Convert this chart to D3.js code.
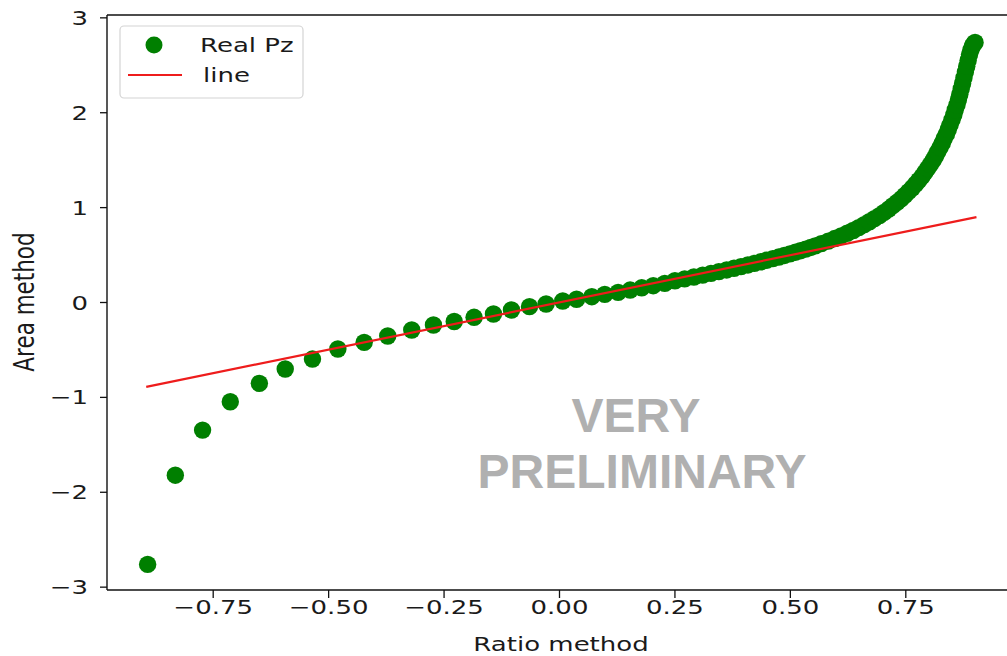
<!DOCTYPE html>
<html>
<head>
<meta charset="utf-8">
<script src="https://cdn.jsdelivr.net/npm/d3@7/dist/d3.min.js"></script>
<style>
  body { margin: 0; background: #fff; }
  svg { display: block; }
  .tick-label, .axis-label, .legend-label { font-family: "DejaVu Sans", sans-serif; fill: #1a1a1a; }
  .stamp { font-family: "Liberation Sans", Arial, sans-serif; font-weight: bold; fill: #b0b0b0; }
</style>
</head>
<body>
<svg id="chart"></svg>
<script>
// scatter "Real Pz"
var pzX = [-0.892, -0.832, -0.773, -0.713, -0.650, -0.594, -0.535, -0.480, -0.423, -0.372,
           -0.320, -0.273, -0.228, -0.185, -0.143, -0.104, -0.065, -0.029, 0.007, 0.037,
           0.070, 0.098, 0.127, 0.153, 0.178, 0.203, 0.228, 0.250, 0.271, 0.291,
           0.310, 0.328, 0.345, 0.362, 0.378, 0.393, 0.408, 0.422, 0.436, 0.449,
           0.462, 0.475, 0.487, 0.499, 0.511, 0.522, 0.533, 0.544, 0.554, 0.567,
           0.582, 0.596, 0.610, 0.623, 0.636,
           0.648, 0.660, 0.671, 0.682, 0.693, 0.703, 0.713, 0.722, 0.731, 0.740,
           0.748, 0.756, 0.764, 0.771, 0.778, 0.785, 0.791, 0.797, 0.803, 0.809,
           0.814, 0.819, 0.824, 0.829, 0.833, 0.838, 0.842, 0.846, 0.850, 0.854,
           0.857, 0.861, 0.864, 0.867, 0.870, 0.873, 0.876, 0.879, 0.882, 0.885,
           0.888, 0.891, 0.894, 0.897, 0.900];
var pzY = [-2.76, -1.82, -1.345, -1.046, -0.852, -0.701, -0.596, -0.490, -0.420, -0.353,
           -0.290, -0.237, -0.200, -0.156, -0.121, -0.079, -0.044, -0.016, 0.016, 0.034,
           0.061, 0.086, 0.107, 0.131, 0.155, 0.177, 0.202, 0.229, 0.249, 0.269,
           0.288, 0.307, 0.325, 0.343, 0.361, 0.378, 0.396, 0.412, 0.429, 0.446,
           0.462, 0.479, 0.496, 0.512, 0.530, 0.546, 0.563, 0.580, 0.597, 0.620,
           0.647, 0.674, 0.702, 0.730, 0.759,
           0.789, 0.820, 0.851, 0.883, 0.916, 0.950, 0.985, 1.020, 1.056, 1.093,
           1.130, 1.168, 1.207, 1.246, 1.286, 1.327, 1.368, 1.410, 1.453, 1.497,
           1.541, 1.586, 1.632, 1.679, 1.726, 1.774, 1.823, 1.873, 1.924, 1.976,
           2.029, 2.083, 2.138, 2.194, 2.251, 2.309, 2.368, 2.428, 2.489, 2.551,
           2.613, 2.660, 2.700, 2.725, 2.740];

// fitted "line"
var lineX = [-0.895, 0.903];
var lineY = [-0.89, 0.90];

var xTicks = [-0.75, -0.5, -0.25, 0, 0.25, 0.5, 0.75];
var yTicks = [-3, -2, -1, 0, 1, 2, 3];

var W = 1007, H = 656;
var svg = d3.select("#chart").attr("width", W).attr("height", H);

var x = d3.scaleLinear().domain([-0.98, 0.98]).range([107, 1012]);
var y = d3.scaleLinear().domain([-3.03, 3.03]).range([590, 15]);

// text in the picture is wider than it is tall
var sx = 1.3;
var fs = "20px";

// points
var pts = d3.range(pzX.length).map(function (i) { return [pzX[i], pzY[i]]; });
svg.append("g").selectAll("circle").data(pts).enter().append("circle")
   .attr("cx", function (d) { return x(d[0]); })
   .attr("cy", function (d) { return y(d[1]); })
   .attr("r", 8.7)
   .attr("fill", "#007f00");

// line on top of points
var lpts = d3.range(lineX.length).map(function (i) { return [lineX[i], lineY[i]]; });
svg.append("path").datum(lpts)
   .attr("d", d3.line().x(function (d) { return x(d[0]); }).y(function (d) { return y(d[1]); }))
   .attr("fill", "none").attr("stroke", "#ee1c1c").attr("stroke-width", 2.2);

// spines
svg.append("line").attr("x1", 107).attr("x2", 107).attr("y1", 15).attr("y2", 590)
   .attr("stroke", "#111").attr("stroke-width", 1.4);
svg.append("line").attr("x1", 107).attr("x2", W).attr("y1", 590).attr("y2", 590)
   .attr("stroke", "#111").attr("stroke-width", 1.4);
svg.append("line").attr("x1", 107).attr("x2", W).attr("y1", 15).attr("y2", 15)
   .attr("stroke", "#111").attr("stroke-width", 1.4);

function fmtX(v) { return d3.format(".2f")(v).replace("-", "\u2212"); }
function fmtY(v) { return String(v).replace("-", "\u2212"); }

// x ticks
var xg = svg.append("g");
xTicks.forEach(function (t) {
    xg.append("line").attr("x1", x(t)).attr("x2", x(t)).attr("y1", 590).attr("y2", 598)
      .attr("stroke", "#111").attr("stroke-width", 1.3);
    xg.append("text").attr("class", "tick-label")
      .attr("transform", "translate(" + x(t) + ",614) scale(" + sx + ",1)")
      .attr("text-anchor", "middle").style("font-size", fs)
      .text(fmtX(t));
});

// y ticks
var yg = svg.append("g");
yTicks.forEach(function (t) {
    yg.append("line").attr("x1", 100).attr("x2", 107).attr("y1", y(t)).attr("y2", y(t))
      .attr("stroke", "#111").attr("stroke-width", 1.3);
    yg.append("text").attr("class", "tick-label")
      .attr("transform", "translate(88," + (y(t) + 7) + ") scale(" + sx + ",1)")
      .attr("text-anchor", "end").style("font-size", fs)
      .text(fmtY(t));
});

// axis labels
svg.append("text").attr("class", "axis-label")
   .attr("transform", "translate(561,651) scale(" + sx + ",1)")
   .attr("text-anchor", "middle").style("font-size", fs)
   .text("Ratio method");
svg.append("text").attr("class", "axis-label")
   .attr("transform", "translate(34,302) scale(" + sx + ",1) rotate(-90)")
   .attr("text-anchor", "middle").style("font-size", "21.5px")
   .text("Area method");

// legend
var lg = svg.append("g");
lg.append("rect").attr("x", 120).attr("y", 26).attr("width", 183).attr("height", 72)
  .attr("rx", 4).attr("fill", "#fff").attr("fill-opacity", 0.8)
  .attr("stroke", "#d4d4d4").attr("stroke-width", 1.2);
lg.append("circle").attr("cx", 154).attr("cy", 45).attr("r", 8.5).attr("fill", "#007f00");
lg.append("text").attr("class", "legend-label")
  .attr("transform", "translate(200,52) scale(" + sx + ",1)")
  .style("font-size", fs).text("Real Pz");
lg.append("line").attr("x1", 128).attr("x2", 182).attr("y1", 75).attr("y2", 75)
  .attr("stroke", "#ee1c1c").attr("stroke-width", 2.2);
lg.append("text").attr("class", "legend-label")
  .attr("transform", "translate(203,82) scale(" + sx + ",1)")
  .style("font-size", fs).text("line");

// watermark
svg.append("text").attr("class", "stamp").attr("x", 636).attr("y", 432)
   .attr("text-anchor", "middle").style("font-size", "48px").text("VERY");
svg.append("text").attr("class", "stamp").attr("x", 642).attr("y", 488)
   .attr("text-anchor", "middle").style("font-size", "48px").text("PRELIMINARY");
</script>
</body>
</html>
